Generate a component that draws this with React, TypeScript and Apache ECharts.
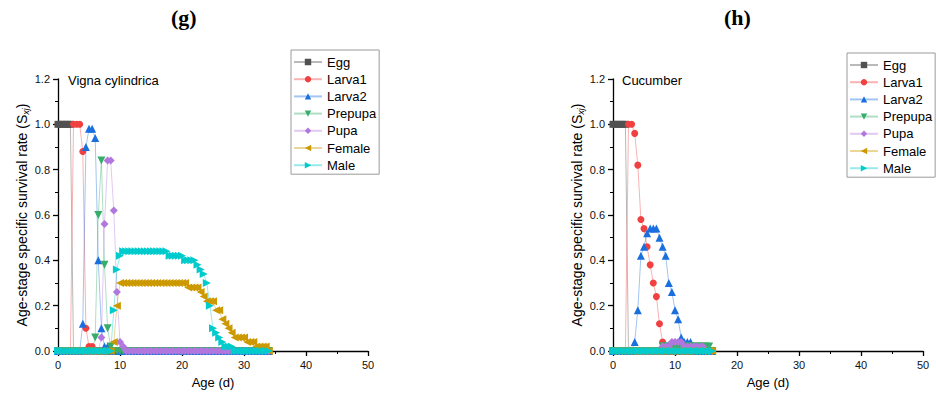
import React, { useEffect, useRef } from "react";
import * as echarts from "echarts";

// ---------- Data ----------
const seriesNames = ["Egg", "Larva1", "Larva2", "Prepupa", "Pupa", "Female", "Male"];

// (g) Vigna cylindrica — ages (d)
const agesG = [
  0, 0.5, 1, 1.5, 2, 2.5, 3, 3.5, 4, 4.5,
  5, 5.5, 6, 6.5, 7, 7.5, 8, 8.5, 9, 9.5,
  10, 10.5, 11, 11.5, 12, 12.5, 13, 13.5, 14, 14.5,
  15, 15.5, 16, 16.5, 17, 17.5, 18, 18.5, 19, 19.5,
  20, 20.5, 21, 21.5, 22, 22.5, 23, 23.5, 24, 24.5,
  25, 25.5, 26, 26.5, 27, 27.5, 28, 28.5, 29, 29.5,
  30, 30.5, 31, 31.5, 32, 32.5, 33, 33.5, 34,
];

const eggG = [
  1, 1, 1, 1, 1, 0, 0, 0, 0, 0,
  0, 0, 0, 0, 0, 0, 0, 0, 0, 0,
  0, 0, 0, 0, 0, 0, 0, 0, 0, 0,
  0, 0, 0, 0, 0, 0, 0, 0, 0, 0,
  0, 0, 0, 0, 0, 0, 0, 0, 0, 0,
  0, 0, 0, 0, 0, 0, 0, 0, 0, 0,
  0, 0, 0, 0, 0, 0, 0, 0, 0,
];
const larva1G = [
  0, 0, 0, 0, 0, 1, 1, 1, 0.88, 0.1,
  0.02, 0.02, 0, 0, 0, 0, 0, 0, 0, 0,
  0, 0, 0, 0, 0, 0, 0, 0, 0, 0,
  0, 0, 0, 0, 0, 0, 0, 0, 0, 0,
  0, 0, 0, 0, 0, 0, 0, 0, 0, 0,
  0, 0, 0, 0, 0, 0, 0, 0, 0, 0,
  0, 0, 0, 0, 0, 0, 0, 0, 0,
];
const larva2G = [
  0, 0, 0, 0, 0, 0, 0, 0, 0.12, 0.9,
  0.98, 0.98, 0.94, 0.4, 0.1, 0.02, 0.02, 0, 0, 0,
  0, 0, 0, 0, 0, 0, 0, 0, 0, 0,
  0, 0, 0, 0, 0, 0, 0, 0, 0, 0,
  0, 0, 0, 0, 0, 0, 0, 0, 0, 0,
  0, 0, 0, 0, 0, 0, 0, 0, 0, 0,
  0, 0, 0, 0, 0, 0, 0, 0, 0,
];
const prepupaG = [
  0, 0, 0, 0, 0, 0, 0, 0, 0, 0,
  0, 0, 0.06, 0.6, 0.84, 0.38, 0.1, 0.02, 0, 0,
  0, 0, 0, 0, 0, 0, 0, 0, 0, 0,
  0, 0, 0, 0, 0, 0, 0, 0, 0, 0,
  0, 0, 0, 0, 0, 0, 0, 0, 0, 0,
  0, 0, 0, 0, 0, 0, 0, 0, 0, 0,
  0, 0, 0, 0, 0, 0, 0, 0, 0,
];
const pupaG = [
  0, 0, 0, 0, 0, 0, 0, 0, 0, 0,
  0, 0, 0, 0, 0.06, 0.56, 0.84, 0.84, 0.62, 0.26,
  0.04, 0.02, 0, 0, 0, 0, 0, 0, 0, 0,
  0, 0, 0, 0, 0, 0, 0, 0, 0, 0,
  0, 0, 0, 0, 0, 0, 0, 0, 0, 0,
  0, 0, 0, 0, 0, 0, 0, 0, 0, 0,
  0, 0, 0, 0, 0, 0, 0, 0, 0,
];
const femaleG = [
  0, 0, 0, 0, 0, 0, 0, 0, 0, 0,
  0, 0, 0, 0, 0, 0, 0, 0, 0.04, 0.2,
  0.3, 0.3, 0.3, 0.3, 0.3, 0.3, 0.3, 0.3, 0.3, 0.3,
  0.3, 0.3, 0.3, 0.3, 0.3, 0.3, 0.3, 0.3, 0.3, 0.3,
  0.3, 0.3, 0.28, 0.28, 0.28, 0.28, 0.26, 0.24, 0.22, 0.22,
  0.22, 0.18, 0.18, 0.14, 0.12, 0.1, 0.08, 0.06, 0.06, 0.06,
  0.06, 0.04, 0.04, 0.04, 0.02, 0.02, 0.02, 0.02, 0,
];
const maleG = [
  0, 0, 0, 0, 0, 0, 0, 0, 0, 0,
  0, 0, 0, 0, 0, 0, 0, 0, 0.18, 0.36,
  0.42, 0.44, 0.44, 0.44, 0.44, 0.44, 0.44, 0.44, 0.44, 0.44,
  0.44, 0.44, 0.44, 0.44, 0.44, 0.44, 0.42, 0.42, 0.42, 0.42,
  0.42, 0.4, 0.4, 0.4, 0.4, 0.38, 0.36, 0.34, 0.3, 0.2,
  0.1, 0.08, 0.06, 0.04, 0.02, 0.02, 0.02, 0, 0, 0,
  0, 0, 0, 0, 0, 0, 0, 0, 0,
];

// (h) Cucumber — ages (d)
const agesH = [
  0, 0.5, 1, 1.5, 2, 2.5, 3, 3.5, 4, 4.5,
  5, 5.5, 6, 6.5, 7, 7.5, 8, 8.5, 9, 9.5,
  10, 10.5, 11, 11.5, 12, 12.5, 13, 13.5, 14, 14.5,
  15, 15.5, 16,
];
const eggH = [
  1, 1, 1, 1, 1, 0, 0, 0, 0, 0,
  0, 0, 0, 0, 0, 0, 0, 0, 0, 0,
  0, 0, 0, 0, 0, 0, 0, 0, 0, 0,
  0, 0, 0,
];
const larva1H = [
  0, 0, 0, 0, 0, 1, 1, 0.96, 0.82, 0.58,
  0.54, 0.46, 0.38, 0.3, 0.24, 0.12, 0.04, 0, 0, 0,
  0, 0, 0, 0, 0, 0, 0, 0, 0, 0,
  0, 0, 0,
];
const larva2H = [
  0, 0, 0, 0, 0, 0, 0, 0.04, 0.18, 0.42,
  0.46, 0.52, 0.54, 0.54, 0.54, 0.5, 0.46, 0.42, 0.3, 0.26,
  0.18, 0.14, 0.06, 0.04, 0.04, 0.04, 0.02, 0, 0, 0,
  0, 0, 0,
];
const prepupaH = [
  0, 0, 0, 0, 0, 0, 0, 0, 0, 0,
  0, 0, 0, 0, 0, 0, 0.02, 0.02, 0.02, 0.02,
  0.02, 0.02, 0.02, 0.02, 0.02, 0.02, 0.02, 0.02, 0.02, 0.02,
  0.02, 0.02, 0,
];
const pupaH = [
  0, 0, 0, 0, 0, 0, 0, 0, 0, 0,
  0, 0, 0, 0, 0, 0, 0.02, 0.02, 0.02, 0.04,
  0.04, 0.04, 0.04, 0.02, 0.02, 0.02, 0.02, 0.02, 0.02, 0.02,
  0, 0, 0,
];
const femaleH = [
  0, 0, 0, 0, 0, 0, 0, 0, 0, 0,
  0, 0, 0, 0, 0, 0, 0, 0, 0, 0,
  0, 0, 0, 0, 0, 0, 0, 0, 0, 0,
  0, 0, 0,
];
const maleH = [
  0, 0, 0, 0, 0, 0, 0, 0, 0, 0,
  0, 0, 0, 0, 0, 0, 0, 0, 0, 0,
  0, 0, 0, 0, 0, 0, 0, 0, 0, 0,
  0, 0, 0,
];

const xTicks = { min: 0, max: 50, interval: 10 };
const yTicks = { min: 0, max: 1.2, interval: 0.2 };

// ---------- Styling ----------
const FONT = 'Arial, "Liberation Sans", Helvetica, sans-serif';
const colors = ["#515151", "#F14040", "#1A6FDF", "#37AD6B", "#B177DE", "#CC9900", "#00CBCC"];
const symbols = [
  "rect",
  "circle",
  "triangle",
  "path://M0,0L10,0L5,10Z",
  "diamond",
  "path://M0,5L10,0L10,10Z",
  "path://M0,0L10,5L0,10Z",
];
const symbolSizes = [7, 7, 8, 8, 8, 8, 8];

function makeSeries(ages: number[], values: number[][], idx: number) {
  return values.map((vals, k) => ({
    name: seriesNames[k],
    type: "line",
    xAxisIndex: idx,
    yAxisIndex: idx,
    data: ages.map((a, i) => [a, vals[i]]),
    symbol: symbols[k],
    symbolSize: symbolSizes[k],
    showSymbol: true,
    clip: false,
    lineStyle: { width: 1, color: colors[k], opacity: 0.4 },
    itemStyle: { color: colors[k] },
    emphasis: { disabled: true },
  }));
}

function xAxis(gridIndex: number) {
  return {
    type: "value",
    gridIndex,
    ...xTicks,
    axisLine: { show: true, onZero: false, lineStyle: { color: "#000", width: 1.3 } },
    axisTick: { show: true, length: 5, lineStyle: { color: "#000", width: 1.3 } },
    minorTick: { show: true, splitNumber: 2, length: 3, lineStyle: { color: "#000", width: 1 } },
    splitLine: { show: false },
    axisLabel: { fontSize: 11, color: "#111", margin: 8, fontFamily: FONT },
    name: "Age (d)",
    nameLocation: "middle",
    nameGap: 25,
    nameTextStyle: { fontSize: 13, color: "#000", fontFamily: FONT },
  };
}

function yAxis(gridIndex: number) {
  return {
    type: "value",
    gridIndex,
    ...yTicks,
    axisLine: { show: true, onZero: false, lineStyle: { color: "#000", width: 1.3 } },
    axisTick: { show: true, length: 5, lineStyle: { color: "#000", width: 1.3 } },
    minorTick: { show: true, splitNumber: 2, length: 3, lineStyle: { color: "#000", width: 1 } },
    splitLine: { show: false },
    axisLabel: {
      fontSize: 11,
      color: "#111",
      margin: 8,
      fontFamily: FONT,
      formatter: (v: number) => v.toFixed(1),
    },
    name: "{a|Age-stage specific survival rate (S}{s|xj}{a|)}",
    nameLocation: "middle",
    nameRotate: 90,
    nameGap: 22,
    nameTextStyle: {
      color: "#000",
      fontFamily: FONT,
      rich: {
        a: { fontSize: 14, fontFamily: FONT, color: "#000", lineHeight: 18, verticalAlign: "middle" },
        s: {
          fontSize: 9,
          fontStyle: "italic",
          fontFamily: FONT,
          color: "#000",
          lineHeight: 18,
          verticalAlign: "bottom",
        },
      },
    },
  };
}

function legend(left: number, top: number) {
  return {
    orient: "vertical",
    left,
    top,
    itemWidth: 28,
    itemHeight: 8,
    itemGap: 3.2,
    padding: [5, 3, 2, 2],
    borderColor: "#9a9a9a",
    borderWidth: 1,
    selectedMode: false,
    textStyle: { fontSize: 13, color: "#000", fontFamily: FONT, lineHeight: 14 },
    data: seriesNames,
  };
}

export default function App() {
  const ref = useRef<HTMLDivElement>(null);

  useEffect(() => {
    if (!ref.current) return;
    const chart = echarts.init(ref.current, undefined, { renderer: "svg" });
    const option = {
      animation: false,
      backgroundColor: "#fff",
      grid: [
        { left: 58, top: 79, width: 310, height: 272 },
        { left: 613, top: 79, width: 310, height: 272 },
      ],
      xAxis: [xAxis(0), xAxis(1)],
      yAxis: [yAxis(0), yAxis(1)],
      legend: [legend(291, 50), legend(847, 53)],
      series: [
        ...makeSeries(agesG, [eggG, larva1G, larva2G, prepupaG, pupaG, femaleG, maleG], 0),
        ...makeSeries(agesH, [eggH, larva1H, larva2H, prepupaH, pupaH, femaleH, maleH], 1),
      ],
      graphic: [
        {
          type: "text",
          left: 171,
          top: 6,
          style: { text: "(g)", font: 'bold 22px "Liberation Serif", "DejaVu Serif", serif', fill: "#000" },
        },
        {
          type: "text",
          left: 724,
          top: 6,
          style: { text: "(h)", font: 'bold 22px "Liberation Serif", "DejaVu Serif", serif', fill: "#000" },
        },
        {
          type: "text",
          left: 68,
          top: 74,
          style: { text: "Vigna cylindrica", font: `13px ${FONT}`, fill: "#000" },
        },
        {
          type: "text",
          left: 622,
          top: 74,
          style: { text: "Cucumber", font: `13px ${FONT}`, fill: "#000" },
        },
      ],
    };
    chart.setOption(option as any);
    return () => {
      chart.dispose();
    };
  }, []);

  return (
    <div
      ref={ref}
      style={{ position: "absolute", left: 0, top: 0, width: 936, height: 398 }}
    />
  );
}
